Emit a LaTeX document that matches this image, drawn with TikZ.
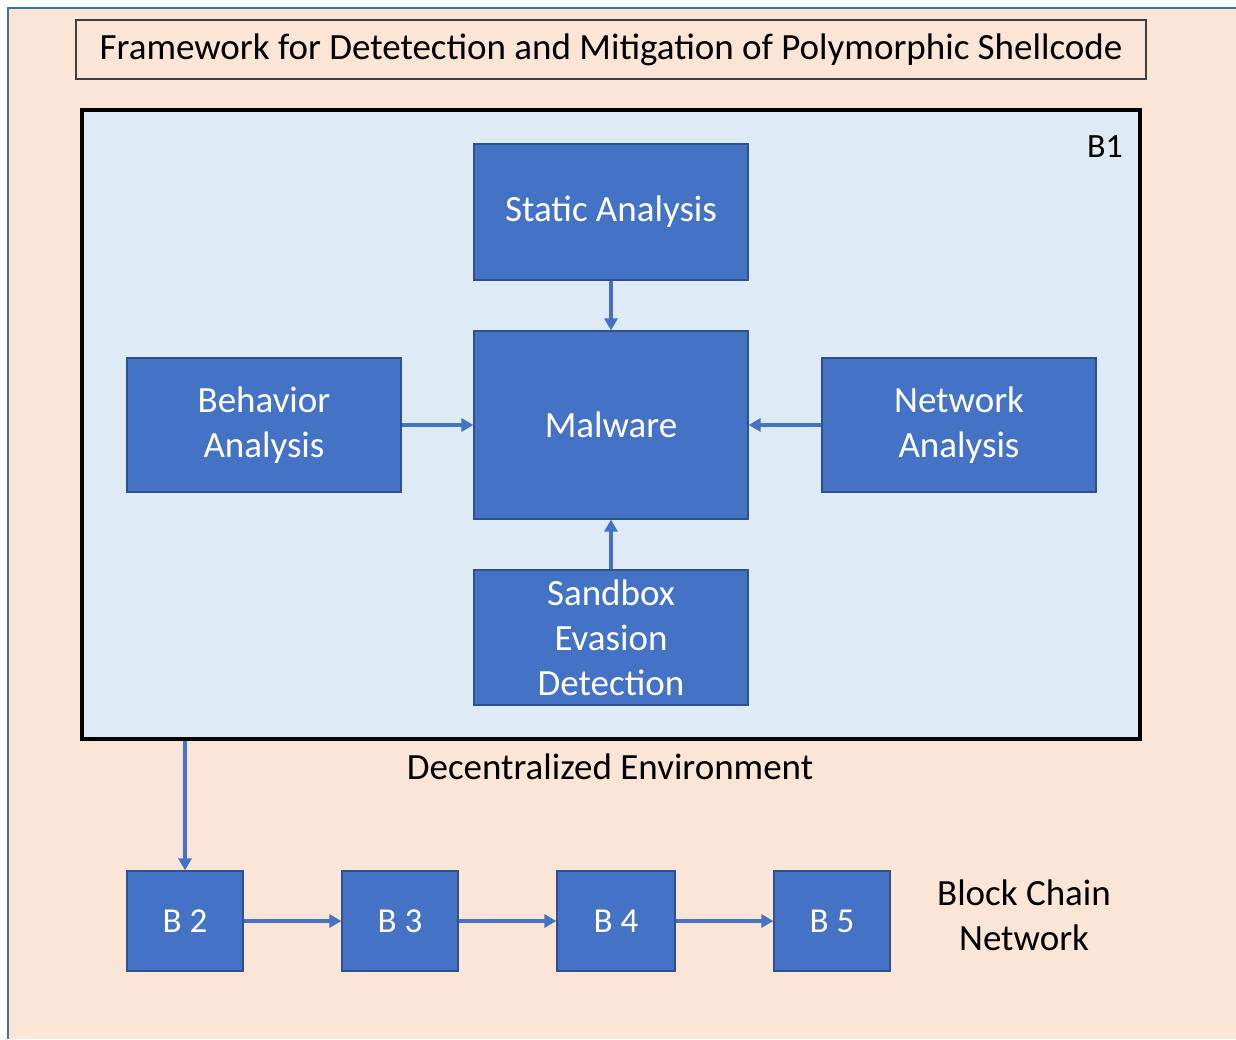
\documentclass[tikz,border=0pt]{standalone}
\usepackage{fontspec}
\setmainfont{Carlito}
\usetikzlibrary{arrows.meta}
\definecolor{peach}{HTML}{FBE5D6}
\definecolor{lightblue}{HTML}{DEEBF7}
\definecolor{boxblue}{HTML}{4472C4}
\definecolor{boxedge}{HTML}{2F528F}
\definecolor{frameedge}{HTML}{41719C}
\definecolor{titleedge}{HTML}{404040}
\begin{document}
\begin{tikzpicture}[x=1pt,y=-1pt,
  blk/.style={draw=boxedge, fill=boxblue, line width=1.2pt, text=white,
    font=\fontsize{37}{45}\selectfont, align=center, inner sep=0pt, minimum width=274pt},
  chain/.style={blk, font=\fontsize{35}{42}\selectfont, minimum width=116pt, minimum height=100pt},
  arr/.style={draw=boxblue, line width=3.6pt, -{Triangle[length=12pt,width=13pt]}},
  lbl/.style={text=black, font=\fontsize{37}{45}\selectfont, align=center, inner sep=0pt}]
\useasboundingbox (0,0) rectangle (1236,1039);
\fill[white] (0,0) rectangle (1236,1039);
\fill[peach] (8,8) rectangle (1236,1039);
\draw[frameedge, line width=1.2pt] (8,1039) -- (8,8) -- (1236,8);
% title
\node[draw=titleedge, line width=1.5pt, minimum width=1070pt, minimum height=59pt, inner sep=0pt,
  font=\fontsize{37}{44}\selectfont] (title) at (611,49.5) {Framework for Detetection and Mitigation of Polymorphic Shellcode};
% B1 frame
\node[draw=black, fill=lightblue, line width=4pt, minimum width=1058pt, minimum height=629pt, inner sep=0pt] (b1) at (611,424.5) {};
\node[lbl, font=\fontsize{34}{40}\selectfont] (b1lbl) at (1105,147) {B1};
% inner boxes
\node[blk, minimum height=136pt] (static) at (611,212) {Static Analysis};
\node[blk, minimum height=188pt] (malware) at (611,425) {Malware};
\node[blk, minimum height=134pt] (behav) at (264,425) {Behavior\\Analysis};
\node[blk, minimum height=134pt] (netw) at (959,425) {Network\\Analysis};
\node[blk, minimum height=135pt] (sandbox) at (611,637.5) {Sandbox\\Evasion\\Detection};
\draw[arr] (static) -- (malware);
\draw[arr] (behav) -- (malware);
\draw[arr] (netw) -- (malware);
\draw[arr] (sandbox) -- (malware);
\node[lbl] (dec) at (610,767) {Decentralized Environment};
% chain
\node[chain] (b2) at (185,921) {B 2};
\node[chain] (b3) at (400,921) {B 3};
\node[chain, minimum width=118pt] (b4) at (616,921) {B 4};
\node[chain] (b5) at (832,921) {B 5};
\draw[arr] (b2.north |- b1.south) -- (b2.north);
\draw[arr] (b2) -- (b3);
\draw[arr] (b3) -- (b4);
\draw[arr] (b4) -- (b5);
\node[lbl] (bcn) at (1024,915) {Block Chain\\Network};
\end{tikzpicture}
\end{document}
